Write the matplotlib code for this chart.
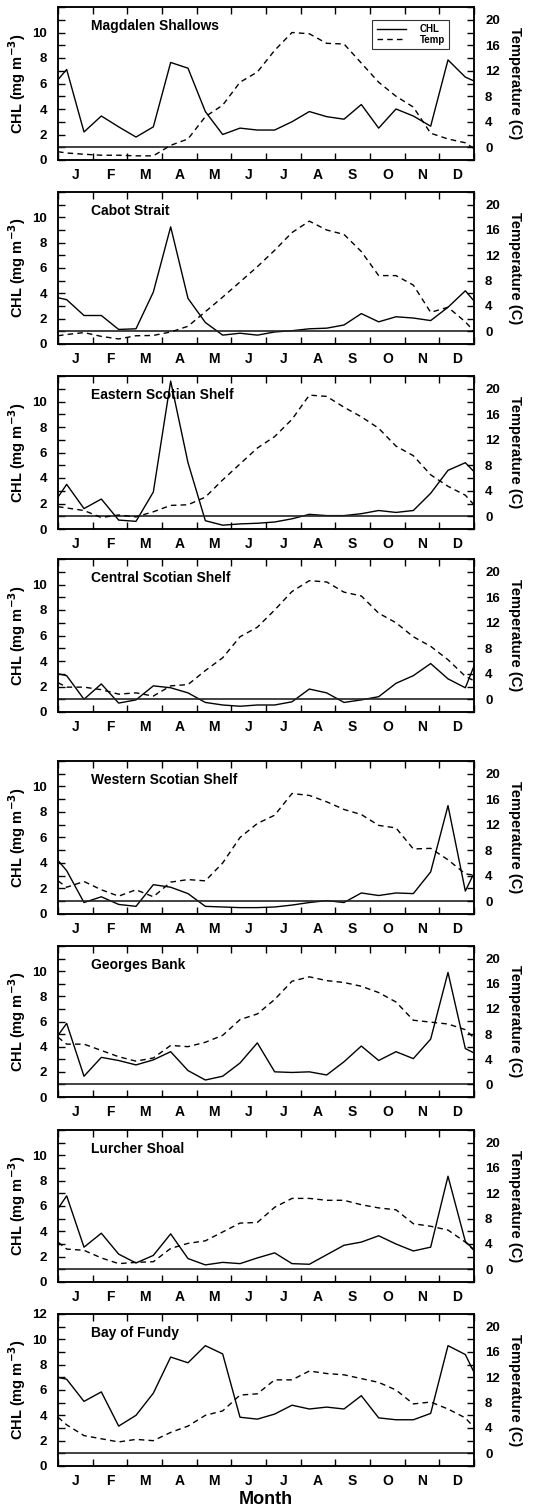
import numpy as np
import matplotlib.pyplot as plt
from matplotlib.ticker import MultipleLocator, FixedLocator, NullFormatter

plt.rcParams['font.family'] = ['Liberation Sans', 'DejaVu Sans']
plt.rcParams['font.weight'] = 'bold'

# x positions in months (semi-monthly points plus wrapped ends)
month_pos = [0, 0.25, 0.75, 1.25, 1.75, 2.25, 2.75, 3.25, 3.75, 4.25, 4.75, 5.25, 5.75,
             6.25, 6.75, 7.25, 7.75, 8.25, 8.75, 9.25, 9.75, 10.25, 10.75, 11.25, 11.75, 12]
month_labels = ['J', 'F', 'M', 'A', 'M', 'J', 'J', 'A', 'S', 'O', 'N', 'D']

regions = ['Magdalen Shallows', 'Cabot Strait', 'Eastern Scotian Shelf', 'Central Scotian Shelf',
           'Western Scotian Shelf', 'Georges Bank', 'Lurcher Shoal', 'Bay of Fundy']

chl_magdalen = [6.3, 7.1, 2.2, 3.45, 2.6, 1.8, 2.6, 7.65, 7.2, 3.8, 2.0, 2.5, 2.35,
                2.35, 3.0, 3.8, 3.4, 3.2, 4.35, 2.5, 4.0, 3.45, 2.65, 7.85, 6.5, 6.2]
temp_magdalen = [-0.7, -0.9, -1.1, -1.25, -1.25, -1.35, -1.35, 0.3, 1.3, 4.8, 6.6, 10.2, 11.8,
                 15.2, 18.0, 17.8, 16.3, 16.2, 13.2, 10.2, 8.0, 6.3, 2.2, 1.3, 0.7, -0.2]

chl_cabot = [3.65, 3.5, 2.25, 2.25, 1.15, 1.2, 4.1, 9.25, 3.6, 1.7, 0.7, 0.85, 0.7,
             0.95, 1.05, 1.2, 1.25, 1.5, 2.4, 1.75, 2.15, 2.05, 1.85, 2.9, 4.2, 3.4]
temp_cabot = [-0.7, -0.5, -0.2, -0.8, -1.2, -0.7, -0.65, -0.1, 0.8, 3.1, 5.4, 7.8, 10.2,
              12.8, 15.6, 17.4, 16.0, 15.3, 12.6, 8.8, 8.8, 7.3, 3.0, 3.8, 1.5, 0.0]

chl_eastern = [2.5, 3.5, 1.6, 2.35, 0.7, 0.6, 2.9, 11.6, 5.2, 0.65, 0.3, 0.4, 0.45,
               0.55, 0.8, 1.15, 1.05, 1.05, 1.2, 1.45, 1.3, 1.45, 2.8, 4.6, 5.2, 4.5]
temp_eastern = [1.5, 1.3, 0.9, -0.2, 0.2, -0.1, 0.7, 1.7, 1.8, 3.0, 5.7, 8.2, 10.7,
                12.5, 15.2, 19.0, 18.8, 17.1, 15.6, 13.8, 11.0, 9.5, 6.5, 4.7, 3.3, 1.8]

chl_central = [3.0, 2.85, 1.0, 2.2, 0.7, 0.95, 2.05, 1.9, 1.5, 0.75, 0.55, 0.45, 0.55,
               0.55, 0.8, 1.8, 1.5, 0.75, 0.95, 1.2, 2.25, 2.85, 3.8, 2.6, 1.9, 3.6]
temp_central = [2.6, 1.9, 1.9, 1.5, 0.8, 1.0, 0.5, 2.1, 2.3, 4.5, 6.5, 9.8, 11.3,
                14.0, 16.9, 18.6, 18.4, 16.8, 16.2, 13.5, 12.0, 9.8, 8.3, 6.2, 3.6, 2.9]

chl_western = [4.2, 3.4, 0.9, 1.35, 0.75, 0.6, 2.3, 2.1, 1.6, 0.6, 0.55, 0.5, 0.5,
               0.55, 0.7, 0.9, 1.05, 0.9, 1.65, 1.45, 1.65, 1.6, 3.3, 8.5, 1.8, 3.2]
temp_western = [3.2, 2.2, 3.1, 1.8, 0.8, 1.8, 0.7, 3.0, 3.4, 3.2, 6.0, 10.0, 12.2,
                13.5, 16.9, 16.6, 15.6, 14.4, 13.6, 11.9, 11.5, 8.2, 8.3, 6.5, 4.3, 4.1]

chl_georges = [4.9, 5.85, 1.65, 3.15, 2.9, 2.55, 2.95, 3.6, 2.1, 1.35, 1.65, 2.7, 4.3,
               2.0, 1.95, 2.0, 1.75, 2.8, 4.05, 2.9, 3.6, 3.05, 4.6, 9.9, 3.85, 3.5]
temp_georges = [7.5, 6.4, 6.4, 5.4, 4.4, 3.7, 4.2, 6.2, 6.0, 6.7, 7.8, 10.3, 11.2,
                13.5, 16.4, 17.1, 16.5, 16.2, 15.6, 14.6, 13.1, 10.2, 9.9, 9.6, 8.7, 7.4]

chl_lurcher = [5.8, 6.8, 2.75, 3.85, 2.2, 1.5, 2.1, 3.8, 1.85, 1.35, 1.55, 1.45, 1.9,
               2.3, 1.45, 1.4, 2.15, 2.9, 3.15, 3.65, 3.0, 2.45, 2.75, 8.35, 3.2, 2.55]
temp_lurcher = [4.3, 3.2, 3.0, 1.8, 0.9, 1.1, 1.2, 3.3, 4.1, 4.5, 5.9, 7.3, 7.4,
                9.8, 11.2, 11.2, 10.9, 10.9, 10.2, 9.7, 9.4, 7.2, 6.8, 6.2, 4.3, 3.0]

chl_fundy = [7.0, 6.85, 5.1, 5.85, 3.15, 4.0, 5.75, 8.6, 8.15, 9.5, 8.85, 3.85, 3.7,
             4.1, 4.8, 4.5, 4.65, 4.5, 5.55, 3.8, 3.65, 3.65, 4.15, 9.5, 8.8, 7.4]
temp_fundy = [5.7, 4.5, 2.8, 2.3, 1.8, 2.2, 2.0, 3.3, 4.3, 6.0, 6.7, 9.2, 9.4,
              11.6, 11.6, 13.0, 12.6, 12.4, 11.8, 11.2, 10.0, 7.8, 8.1, 7.0, 5.6, 4.1]

chl_all = [chl_magdalen, chl_cabot, chl_eastern, chl_central,
           chl_western, chl_georges, chl_lurcher, chl_fundy]
temp_all = [temp_magdalen, temp_cabot, temp_eastern, temp_central,
            temp_western, temp_georges, temp_lurcher, temp_fundy]

W, H = 556, 1510
fig = plt.figure(figsize=(W / 100, H / 100), dpi=100)

# panel top / bottom in pixels
tops = [7, 192, 376, 559, 761, 946, 1130, 1314]
bottoms = [160, 344, 529, 712, 914, 1097, 1282, 1466]
left, right = 58, 474

for i in range(8):
    ax = fig.add_axes([left / W, 1 - bottoms[i] / H, (right - left) / W, (bottoms[i] - tops[i]) / H])
    ax2 = ax.twinx()

    l1, = ax.plot(month_pos, chl_all[i], color='black', lw=1.0, label='CHL')
    l2, = ax2.plot(month_pos, temp_all[i], color='black', lw=1.0, ls=(0, (4, 3)), label='Temp')
    ax.axhline(1, color='#222222', lw=1.2)

    ax.set_xlim(0, 12)
    ax.set_ylim(0, 12)
    ax2.set_ylim(-2, 22)

    ax.xaxis.set_major_locator(MultipleLocator(1))
    ax.xaxis.set_major_formatter(NullFormatter())
    ax.xaxis.set_minor_locator(FixedLocator(np.arange(0.5, 12, 1)))
    ax.set_xticklabels(month_labels, minor=True)
    ax.tick_params(axis='x', which='minor', length=0, labelsize=10, pad=6)
    ax.tick_params(axis='x', which='major', direction='in', length=5, width=1, top=True)

    if i == 7:
        ax.set_yticks([0, 2, 4, 6, 8, 10, 12])
    else:
        ax.set_yticks([0, 2, 4, 6, 8, 10])
    ax.yaxis.set_minor_locator(MultipleLocator(1))
    ax.tick_params(axis='y', which='both', direction='in', length=5, width=1, labelsize=9.5, pad=8)

    ax2.set_yticks([0, 4, 8, 12, 16, 20])
    ax2.yaxis.set_minor_locator(MultipleLocator(2))
    ax2.tick_params(axis='y', which='both', direction='in', length=5, width=1, labelsize=9.5, pad=8)

    for a in (ax, ax2):
        for lab in a.get_xticklabels(minor=True) + a.get_yticklabels():
            lab.set_fontweight('bold')
        for s in a.spines.values():
            s.set_linewidth(1.1)

    ax.set_ylabel('CHL (mg m$^{\\mathbf{-3}}$)', fontsize=10.5, fontweight='bold', labelpad=3)
    ax2.set_ylabel('Temperature (C)', fontsize=10.5, fontweight='bold', rotation=270, labelpad=16)

    ax.text(0.08, 0.875, regions[i], transform=ax.transAxes, fontsize=10,
            fontweight='bold', va='center', ha='left')

    if i == 0:
        leg = ax.legend([l1, l2], ['CHL', 'Temp'], loc='upper right',
                        bbox_to_anchor=(0.94, 0.915), fontsize=7, frameon=True,
                        fancybox=False, edgecolor='black', handlelength=3.0,
                        borderpad=0.45, labelspacing=0.05, handletextpad=1.4,
                        borderaxespad=0)
        leg.get_frame().set_linewidth(0.8)
        for t in leg.get_texts():
            t.set_fontweight('bold')

    if i == 7:
        ax.set_xlabel('Month', fontsize=13, fontweight='bold', labelpad=2)

fig.savefig('out.png', dpi=100)
